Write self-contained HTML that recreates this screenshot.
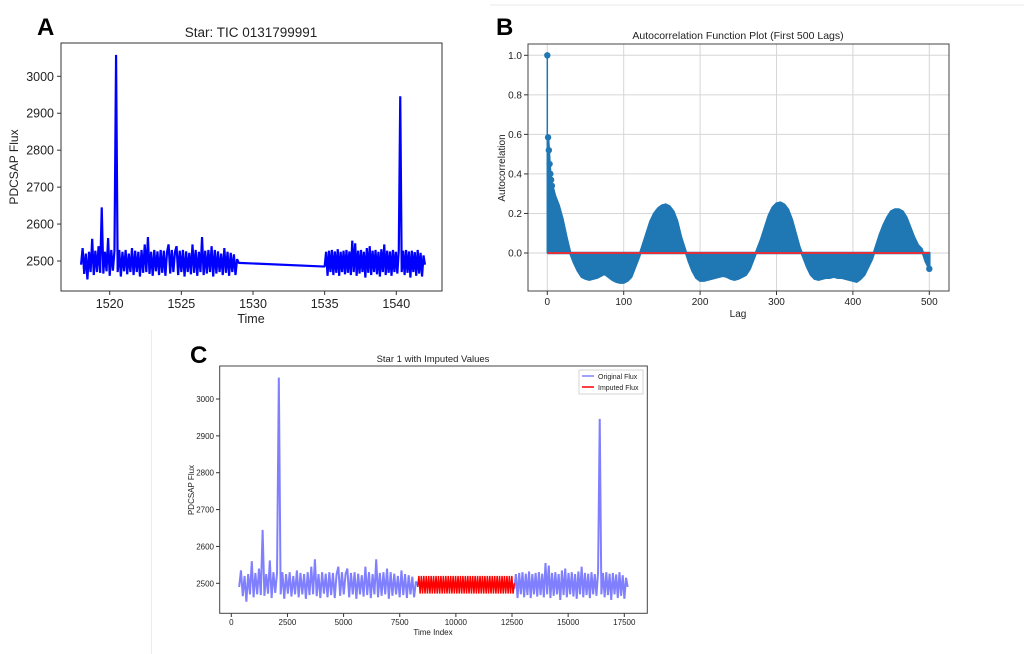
<!DOCTYPE html>
<html><head><meta charset="utf-8"><style>
html,body{margin:0;padding:0;background:#fff}
svg{display:block;font-family:"Liberation Sans","DejaVu Sans",sans-serif}
</style></head><body>
<svg id="s" width="1024" height="654" viewBox="0 0 1024 654"></svg>
<script>
// ---------- data ----------
const fluxSeg1 = [2490,2535,2465,2520,2450,2525,2470,2560,2462,2528,2470,2540,2468,2645,2466,2525,2472,2562,2460,2530,2474,2528,3058,2470,2530,2458,2525,2472,2530,2464,2520,2470,2535,2462,2528,2470,2525,2458,2530,2468,2545,2470,2565,2465,2525,2460,2530,2472,2526,2462,2530,2468,2528,2460,2524,2545,2466,2530,2470,2525,2540,2462,2528,2470,2530,2458,2526,2470,2522,2464,2545,2468,2530,2460,2525,2470,2565,2462,2528,2466,2530,2470,2540,2458,2530,2466,2526,2470,2520,2462,2535,2468,2525,2460,2522,2470,2518,2462,2505,2495];
const fluxSeg2 = [2485,2525,2460,2528,2470,2530,2462,2526,2468,2532,2460,2525,2470,2528,2464,2530,2468,2526,2462,2555,2470,2548,2460,2528,2466,2530,2470,2525,2455,2535,2468,2540,2462,2528,2470,2530,2464,2525,2458,2532,2470,2545,2462,2528,2468,2526,2460,2530,2470,2525,2466,2530,2946,2470,2528,2462,2530,2468,2526,2455,2528,2470,2524,2460,2530,2466,2522,2458,2515,2490];
const imputedFlux = [2490,2520,2472,2520,2472,2520,2472,2520,2472,2520,2472,2520,2472,2520,2472,2520,2472,2520,2472,2520,2472,2520,2472,2520,2472,2520,2472,2520,2472,2520,2472,2520,2472,2520,2472,2520,2472,2520,2472,2520,2472,2520,2472,2520,2472,2520,2472,2520,2472,2520,2472,2520,2472,2520,2472,2520,2472,2520,2472,2520,2472,2520,2472,2520,2472,2520,2472,2520,2472,2520,2472,2520,2472,2520,2472,2520,2472,2520,2472,2500];
const seg1Time = [1518, 1529];
const seg2Time = [1535, 1542];
const seg1Index = [350, 8300];
const seg2Index = [12600, 17650];
const imputedIndex = [8300, 12600];
const acfLags = [0,1,2,3,4,5,6,8,10,15,20,25,30,35,40,45,50,55,60,65,70,75,80,85,90,95,100,105,110,115,120,125,130,135,140,145,150,155,160,165,170,175,180,185,190,195,200,205,210,215,220,225,230,235,240,245,250,255,260,265,270,275,280,285,290,295,300,305,310,315,320,325,330,335,340,345,350,355,360,365,370,375,380,385,390,395,400,405,410,415,420,425,430,435,440,445,450,455,460,465,470,475,480,485,490,495,500];
const acfValues = [1.0,.585,.52,.45,.40,.37,.34,.32,.29,.24,.17,.08,0.0,-.05,-.09,-.12,-.13,-.135,-.13,-.125,-.115,-.105,-.12,-.135,-.145,-.15,-.15,-.14,-.12,-.07,-.02,.04,.10,.16,.20,.225,.24,.245,.235,.21,.16,.08,.02,-.04,-.09,-.125,-.14,-.14,-.135,-.13,-.125,-.12,-.115,-.12,-.13,-.135,-.13,-.12,-.11,-.08,-.03,.02,.07,.13,.19,.23,.25,.255,.245,.22,.17,.10,.03,-.02,-.07,-.11,-.13,-.135,-.13,-.125,-.125,-.12,-.125,-.125,-.13,-.135,-.14,-.145,-.13,-.11,-.07,-.03,.03,.09,.14,.18,.21,.22,.22,.21,.18,.13,.08,.04,.02,-.04,-.08];
const acfMarkerLags = [0,1,2,3,4,5,6];
const ticksAy = [2500,2600,2700,2800,2900,3000];
const ticksAx = [1520,1525,1530,1535,1540];
const ticksBy = [0.0,0.2,0.4,0.6,0.8,1.0];
const ticksBx = [0,100,200,300,400,500];
const ticksCy = [2500,2600,2700,2800,2900,3000];
const ticksCx = [0,2500,5000,7500,10000,12500,15000,17500];

const NS="http://www.w3.org/2000/svg";
const svg=document.getElementById('s');
function mk(tag,attrs,parent,text){const e=document.createElementNS(NS,tag);for(const k in attrs)e.setAttribute(k,attrs[k]);if(text!==undefined)e.textContent=text;(parent||svg).appendChild(e);return e;}
function lin(d0,d1,r0,r1){return v=>r0+(v-d0)*(r1-r0)/(d1-d0);}

// ---------- Panel A ----------
const gA=mk('g',{});


const xA=lin(1520,1540,109.7,396.3), yA=lin(2500,3000,261,76.3);
let t=mk('text',{x:37,y:35,'font-size':24,'font-weight':'bold',fill:'#000'},gA,'A');


t=mk('text',{x:251,y:37,'font-size':13.5,'text-anchor':'middle',fill:'#222'},gA,'Star: TIC 0131799991');


ticksAy.forEach(v=>{const y=yA(v);mk('line',{x1:57,x2:61,y1:y,y2:y,stroke:'#333'},gA);
 const l=mk('text',{x:54,y:y+4.5,'font-size':12.5,'text-anchor':'end',fill:'#222'},gA,String(v));
 
 });
ticksAx.forEach(v=>{const x=xA(v);mk('line',{x1:x,x2:x,y1:291,y2:295,stroke:'#333'},gA);
 const l=mk('text',{x:x,y:308,'font-size':12.5,'text-anchor':'middle',fill:'#222'},gA,String(v));
 
 });
t=mk('text',{x:251,y:323,'font-size':12.5,'text-anchor':'middle',fill:'#222'},gA,'Time');


t=mk('text',{x:0,y:0,'font-size':12,'text-anchor':'middle',fill:'#222',transform:'translate(18,167) rotate(-90)'},gA,'PDCSAP Flux');


let ptsA=[];
fluxSeg1.forEach((v,i)=>ptsA.push(xA(seg1Time[0]+i*(seg1Time[1]-seg1Time[0])/(fluxSeg1.length-1))+','+yA(v)));
fluxSeg2.forEach((v,i)=>ptsA.push(xA(seg2Time[0]+i*(seg2Time[1]-seg2Time[0])/(fluxSeg2.length-1))+','+yA(v)));
let p=mk('polyline',{points:ptsA.join(' '),fill:'none',stroke:'#0000ff','stroke-width':2.2,'stroke-linejoin':'bevel'},gA);


let fr=mk('rect',{x:61,y:43,width:381,height:248,fill:'none',stroke:'#333','stroke-width':1},gA);



// ---------- Panel B ----------
const gB=mk('g',{});


mk('line',{x1:490,x2:1024,y1:5,y2:5,stroke:'#e8e8e8'},gB);
const xB=lin(0,500,547.3,929.3), yB=lin(0,1,253,55.3);
t=mk('text',{x:496,y:35,'font-size':24,'font-weight':'bold',fill:'#000'},gB,'B');


t=mk('text',{x:738,y:39,'font-size':10.5,'text-anchor':'middle',fill:'#222'},gB,'Autocorrelation Function Plot (First 500 Lags)');


ticksBy.forEach(v=>{const y=yB(v);mk('line',{x1:528,x2:949,y1:y,y2:y,stroke:'#d6d6d6','stroke-width':1},gB);
 mk('line',{x1:524,x2:528,y1:y,y2:y,stroke:'#333'},gB);
 const l=mk('text',{x:522,y:y+3.5,'font-size':10,'text-anchor':'end',fill:'#222'},gB,v.toFixed(1));
 
 });
ticksBx.forEach(v=>{const x=xB(v);mk('line',{x1:x,x2:x,y1:44,y2:291,stroke:'#d6d6d6'},gB);
 mk('line',{x1:x,x2:x,y1:291,y2:295,stroke:'#333'},gB);
 const l=mk('text',{x:x,y:305,'font-size':10,'text-anchor':'middle',fill:'#222'},gB,String(v));
 
 });
t=mk('text',{x:738,y:317,'font-size':10,'text-anchor':'middle',fill:'#222'},gB,'Lag');


t=mk('text',{x:0,y:0,'font-size':10,'text-anchor':'middle',fill:'#222',transform:'translate(505,168) rotate(-90)'},gB,'Autocorrelation');


let areaPts=[xB(1)+','+yB(0)];
acfLags.forEach((l,i)=>{if(l>=1)areaPts.push(xB(l)+','+yB(acfValues[i]));});
areaPts.push(xB(500)+','+yB(0));
p=mk('polygon',{points:areaPts.join(' '),fill:'#1f77b4',stroke:'#1f77b4','stroke-width':2.5,'stroke-linejoin':'round'},gB);


p=mk('line',{x1:xB(0),x2:xB(0),y1:yB(0),y2:yB(acfValues[0]),stroke:'#1f77b4','stroke-width':1.5},gB);


acfMarkerLags.forEach(l=>{const i=acfLags.indexOf(l);
 const c=mk('circle',{cx:xB(l),cy:yB(acfValues[i]),r:3.2,fill:'#1f77b4'},gB);
 
 });
let c=mk('circle',{cx:xB(500),cy:yB(acfValues[acfValues.length-1]),r:3.2,fill:'#1f77b4'},gB);


p=mk('line',{x1:xB(0),x2:xB(500),y1:yB(0),y2:yB(0),stroke:'#e0303a','stroke-width':2},gB);


fr=mk('rect',{x:528,y:44,width:421,height:247,fill:'none',stroke:'#444','stroke-width':1},gB);



// ---------- Panel C ----------
const gC=mk('g',{});


mk('line',{x1:151.5,x2:151.5,y1:330,y2:654,stroke:'#ececec'},gC);
const xC=lin(0,17500,231.3,624.3), yC=lin(2500,3000,583.3,399);
t=mk('text',{x:190,y:363,'font-size':24,'font-weight':'bold',fill:'#000'},gC,'C');


t=mk('text',{x:433,y:362,'font-size':9.5,'text-anchor':'middle',fill:'#222'},gC,'Star 1 with Imputed Values');


ticksCy.forEach(v=>{const y=yC(v);mk('line',{x1:216,x2:219.7,y1:y,y2:y,stroke:'#333'},gC);
 const l=mk('text',{x:214,y:y+3,'font-size':8,'text-anchor':'end',fill:'#222'},gC,String(v));
 
 });
ticksCx.forEach(v=>{const x=xC(v);mk('line',{x1:x,x2:x,y1:613.3,y2:617,stroke:'#333'},gC);
 const l=mk('text',{x:x,y:625,'font-size':8,'text-anchor':'middle',fill:'#222'},gC,String(v));
 
 });
t=mk('text',{x:433,y:635,'font-size':8,'text-anchor':'middle',fill:'#222'},gC,'Time Index');


t=mk('text',{x:0,y:0,'font-size':8,'text-anchor':'middle',fill:'#222',transform:'translate(194,490) rotate(-90)'},gC,'PDCSAP Flux');


const toPts=(arr,rng)=>arr.map((v,i)=>xC(rng[0]+i*(rng[1]-rng[0])/(arr.length-1))+','+yC(v)).join(' ');
p=mk('polyline',{points:toPts(fluxSeg1,seg1Index),fill:'none',stroke:'#8080ff','stroke-width':2.0,'stroke-linejoin':'bevel'},gC);


p=mk('polyline',{points:toPts(fluxSeg2,seg2Index),fill:'none',stroke:'#8080ff','stroke-width':2.0,'stroke-linejoin':'bevel'},gC);


p=mk('polyline',{points:toPts(imputedFlux,imputedIndex),fill:'none',stroke:'#ff0000','stroke-width':1.5,'stroke-linejoin':'bevel'},gC);


fr=mk('rect',{x:219.7,y:366,width:427.6,height:247.3,fill:'none',stroke:'#444','stroke-width':1},gC);


const lg=mk('g',{},gC);


mk('rect',{x:579,y:370,width:64,height:24,fill:'#fff',stroke:'#ccc','stroke-width':0.8},lg);
mk('line',{x1:582,x2:594,y1:376,y2:376,stroke:'#8080ff','stroke-width':1.5},lg);
mk('line',{x1:582,x2:594,y1:387,y2:387,stroke:'#ff0000','stroke-width':1.5},lg);
t=mk('text',{x:598,y:379,'font-size':7,fill:'#222'},lg,'Original Flux');


t=mk('text',{x:598,y:390,'font-size':7,fill:'#222'},lg,'Imputed Flux');


</script>
</body></html>
